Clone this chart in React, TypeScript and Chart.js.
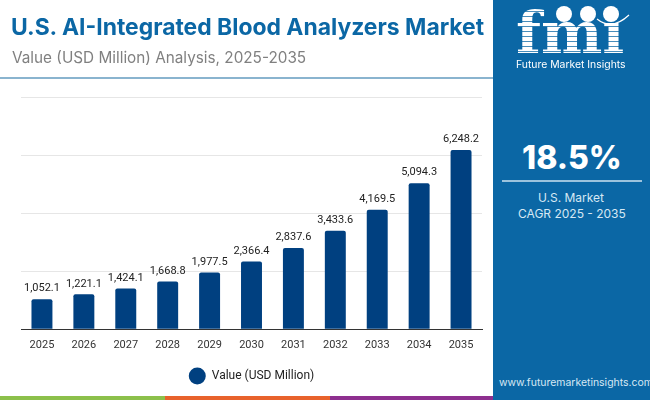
import { useEffect, useRef } from "react";
import { Chart, registerables } from "chart.js";
import type { Plugin } from "chart.js";

Chart.register(...registerables);

const years = ["2025", "2026", "2027", "2028", "2029", "2030", "2031", "2032", "2033", "2034", "2035"];
const values = [1052.1, 1221.1, 1424.1, 1668.8, 1977.5, 2366.4, 2837.6, 3433.6, 4169.5, 5094.3, 6248.2];
// the gridlines in the picture are evenly spaced, no tick labels are shown
const yTicks = [0, 2025, 4050, 6075, 8100];

const BLUE = "#0b67a5";
const NAVY = "#004080";

const formatValue = (v: number) =>
  v.toLocaleString("en-US", { minimumFractionDigits: 1, maximumFractionDigits: 1 });

// value labels above each bar
const barLabels: Plugin<"bar"> = {
  id: "barLabels",
  afterDatasetsDraw(chart) {
    const { ctx } = chart;
    const bars = chart.getDatasetMeta(0).data;
    ctx.save();
    ctx.font = "11px Roboto";
    ctx.fillStyle = "#222222";
    ctx.textAlign = "center";
    ctx.textBaseline = "bottom";
    bars.forEach((bar, i) => {
      ctx.fillText(formatValue(values[i]), bar.x, bar.y - 5);
    });
    ctx.restore();
  },
};

const text = (top: number, left: number, style: React.CSSProperties, content: string) => (
  <div style={{ position: "absolute", top, left, whiteSpace: "nowrap", ...style }}>{content}</div>
);

const globe = (left: number) => (
  <div style={{ position: "absolute", left, top: 6, width: 16, height: 16, borderRadius: "50%", background: "#ffffff" }} />
);

const App = () => {
  const canvasRef = useRef<HTMLCanvasElement>(null);

  useEffect(() => {
    if (!canvasRef.current) return;
    const chart = new Chart(canvasRef.current, {
      type: "bar",
      data: {
        labels: years,
        datasets: [
          {
            label: "Value (USD Million)",
            data: values,
            backgroundColor: NAVY,
            borderRadius: { topLeft: 2, topRight: 2 },
            borderSkipped: "bottom",
            barPercentage: 0.5,
            categoryPercentage: 1,
          },
        ],
      },
      options: {
        animation: false,
        responsive: false,
        layout: { padding: { left: 21, right: 11, top: 97, bottom: 4 } },
        plugins: {
          tooltip: { enabled: false },
          legend: {
            position: "bottom",
            labels: {
              usePointStyle: true,
              pointStyle: "circle",
              pointStyleWidth: 17,
              boxHeight: 12,
              padding: 9.5,
              color: "#222222",
              font: { family: "Roboto", size: 12 },
            },
          },
        },
        scales: {
          x: {
            grid: { display: false, drawTicks: false },
            border: { color: "#333333", width: 1 },
            ticks: { color: "#333333", font: { family: "Roboto", size: 11 }, padding: 9, maxRotation: 0 },
          },
          y: {
            min: 0,
            max: 8100,
            afterBuildTicks: (axis) => {
              axis.ticks = yTicks.map((value) => ({ value }));
            },
            grid: { color: "#e6e6e6", drawTicks: false },
            border: { display: false },
            ticks: { display: false },
          },
        },
      },
      plugins: [barLabels],
    });
    return () => chart.destroy();
  }, []);

  return (
    <div style={{ position: "fixed", inset: 0, width: 650, height: 400, background: "#ffffff", overflow: "hidden", fontFamily: "Inter" }}>
      <canvas ref={canvasRef} width={493} height={396} style={{ position: "absolute", left: 0, top: 0 }} />
      {text(13, 11, { color: BLUE, fontSize: 22.9, fontWeight: 700 }, "U.S. AI-Integrated Blood Analyzers Market")}
      {text(48, 12, { color: "#808080", fontSize: 15.3 }, "Value (USD Million) Analysis, 2025-2035")}
      <div style={{ position: "absolute", left: 0, top: 77, width: 493, height: 1.5, background: "#8ab4cf" }} />
      <div style={{ position: "absolute", left: 493, top: 0, width: 157, height: 400, background: BLUE }} />
      {text(-3, 516, {
        fontFamily: "DejaVu Serif",
        fontWeight: 700,
        fontSize: 58,
        lineHeight: "72px",
        color: "transparent",
        backgroundImage: "repeating-linear-gradient(#ffffff 0 4px, rgba(255,255,255,0.25) 4px 5px)",
        WebkitBackgroundClip: "text",
        backgroundClip: "text",
      }, "fmi")}
      {globe(556)}
      {globe(580)}
      {globe(603)}
      <svg width={650} height={40} style={{ position: "absolute", left: 0, top: 0 }}>
        <path d="M597 19 Q612 31 629 15" fill="none" stroke="#ffffff" strokeWidth={1.2} />
      </svg>
      {text(58, 516, { color: "#ffffff", fontSize: 10.4 }, "Future Market Insights")}
      {text(138, 522, { color: "#ffffff", fontSize: 32, fontWeight: 800 }, "18.5%")}
      <div style={{ position: "absolute", left: 502, top: 180, width: 140, height: 2, background: "#9cc3dd" }} />
      {text(190, 538, { color: "#d6e8f4", fontSize: 12 }, "U.S. Market")}
      {text(206, 518, { color: "#d6e8f4", fontSize: 12 }, "CAGR 2025 - 2035")}
      {text(376, 499, { color: "#d6e8f4", fontSize: 10.45 }, "www.futuremarketinsights.com")}
      <div style={{ position: "absolute", left: 0, top: 396, width: 165, height: 4, background: "#8cc04b" }} />
      <div style={{ position: "absolute", left: 165, top: 396, width: 165, height: 4, background: "#e8622c" }} />
      <div style={{ position: "absolute", left: 330, top: 396, width: 163, height: 4, background: "#8e2f8f" }} />
    </div>
  );
};

export default App;
